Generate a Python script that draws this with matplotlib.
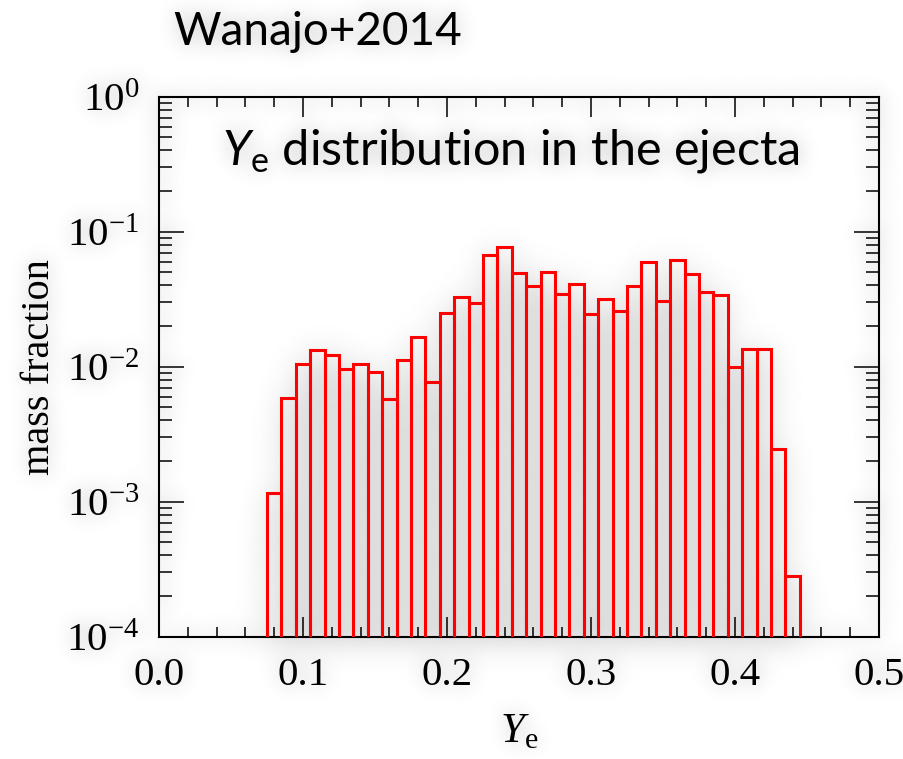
import numpy as np
import matplotlib
matplotlib.use('Agg')
import matplotlib.pyplot as plt
from matplotlib.ticker import MultipleLocator, LogLocator, FuncFormatter, FormatStrFormatter, NullFormatter

# Ye histogram of the ejecta, bins of 0.01
ye_left = [0.075, 0.085, 0.095, 0.105, 0.115, 0.125, 0.135, 0.145, 0.155, 0.165,
           0.175, 0.185, 0.195, 0.205, 0.215, 0.225, 0.235, 0.245, 0.255, 0.265,
           0.275, 0.285, 0.295, 0.305, 0.315, 0.325, 0.335, 0.345, 0.355, 0.365,
           0.375, 0.385, 0.395, 0.405, 0.415, 0.425, 0.435]
mass_frac = [1.16e-3, 5.9e-3, 1.05e-2, 1.34e-2, 1.21e-2, 9.6e-3, 1.05e-2, 9.1e-3, 5.8e-3, 1.13e-2,
             1.65e-2, 7.7e-3, 2.51e-2, 3.26e-2, 2.98e-2, 6.7e-2, 7.7e-2, 4.97e-2, 3.93e-2, 5.03e-2,
             3.45e-2, 4.1e-2, 2.46e-2, 3.17e-2, 2.6e-2, 3.93e-2, 5.96e-2, 3.08e-2, 6.17e-2, 4.86e-2,
             3.55e-2, 3.4e-2, 1.0e-2, 1.36e-2, 1.36e-2, 2.43e-3, 2.72e-4]
bin_w = 0.01

plt.rcParams['mathtext.fontset'] = 'custom'
plt.rcParams['mathtext.rm'] = 'Lato'
plt.rcParams['mathtext.it'] = 'Lato:italic'
plt.rcParams['mathtext.sf'] = 'Liberation Serif:italic'

serif = 'Liberation Serif'

fig = plt.figure(figsize=(9.035, 7.595), dpi=100)
ax = fig.add_axes([0.176, 0.161, 0.797, 0.711])
ax.set_facecolor('none')

ax.bar(ye_left, mass_frac, width=bin_w, align='edge', bottom=1e-5,
       fill=False, edgecolor='red', linewidth=2.2, zorder=3)

ax.set_yscale('log')
ax.set_xlim(0.0, 0.5)
ax.set_ylim(1e-4, 1.0)

ax.xaxis.set_major_locator(MultipleLocator(0.1))
ax.xaxis.set_minor_locator(MultipleLocator(0.02))
ax.xaxis.set_major_formatter(FormatStrFormatter('%.1f'))
ax.yaxis.set_major_locator(LogLocator(base=10))
ax.yaxis.set_minor_locator(LogLocator(base=10, subs=np.arange(2, 10)))
ax.yaxis.set_minor_formatter(NullFormatter())
ax.yaxis.set_major_formatter(FuncFormatter(
    lambda v, p: r'$\mathregular{10^{%d}}$' % round(np.log10(v))))

ax.tick_params(which='both', direction='in', top=True, right=True, width=1.1)
ax.tick_params(axis='x', which='major', length=14.5, pad=14)
ax.tick_params(axis='x', which='minor', length=7.5)
ax.tick_params(axis='y', which='major', length=18, pad=14)
ax.tick_params(axis='y', which='minor', length=9.5)
for lab in ax.get_xticklabels() + ax.get_yticklabels():
    lab.set_fontfamily(serif)
    lab.set_fontsize(29.5)
for sp in ax.spines.values():
    sp.set_linewidth(1.5)

ax.set_ylabel('mass fraction', fontfamily=serif, fontsize=29, labelpad=6)
ax.set_xlabel(r'$\mathsf{Y}_\mathregular{e}$', fontfamily=serif, fontsize=31, labelpad=14)

fig.text(173 / 903, 1 - 45 / 759, 'Wanajo+2014', fontfamily='Lato', fontsize=33,
         ha='left', va='baseline')
fig.text(222 / 903, 1 - 164 / 759, r'$\mathit{Y}_\mathrm{e}$ distribution in the ejecta',
         fontfamily='Lato', fontsize=35, ha='left', va='baseline')


# soft grey shadow behind the histogram and the lettering
def blur(a, s):
    r = int(3 * s)
    k = np.exp(-0.5 * (np.arange(-r, r + 1) / s) ** 2)
    k /= k.sum()
    a = np.apply_along_axis(lambda m: np.convolve(m, k, mode='same'), 0, a)
    return np.apply_along_axis(lambda m: np.convolve(m, k, mode='same'), 1, a)


fig.canvas.draw()
rgba = np.asarray(fig.canvas.buffer_rgba()).astype(float)[::-1] / 255.0
ink = ((rgba[..., 0] < 0.4) & (rgba[..., 1] < 0.4)).astype(float)
H, W = ink.shape

mask = np.zeros((H, W))
y_bot = ax.transAxes.transform((0, 0))[1]
for xl, v in zip(ye_left, mass_frac):
    (x0, y1), (x1, _) = ax.transData.transform([(xl, v), (xl + bin_w, v)])
    mask[int(y_bot) - 6:int(y1), int(x0):int(x1)] = 1.0
shade = 1.0 - 0.13 * blur(mask, 16) - 0.3 * blur(ink, 10)

bg = fig.add_axes([0, 0, 1, 1], zorder=-1)
bg.imshow(np.clip(shade, 0, 1), cmap='gray', vmin=0, vmax=1, origin='lower',
          extent=[0, 1, 0, 1], aspect='auto', interpolation='bilinear')
bg.axis('off')

fig.savefig('out.png', dpi=100)
